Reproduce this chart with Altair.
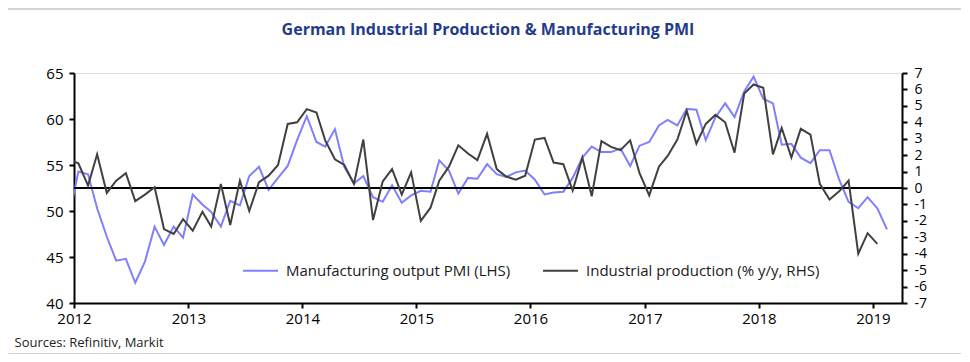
import altair as alt
import pandas as pd

# ---- data (monthly, first point Dec 2011, clipped at the axis) ----
start_month = "2011-12-01"
pmi_name = "Manufacturing output PMI (LHS)"
ip_name = "Industrial production (% y/y, RHS)"

pmi = [49.1, 54.3, 54.0, 50.3, 47.2, 44.6, 44.8, 42.2, 44.5, 48.3, 46.3, 48.3, 47.1,
       51.8, 50.7, 49.9, 48.3, 51.1, 50.6, 53.8, 54.8, 52.3, 53.6, 54.9, 57.7,
       60.3, 57.5, 57.0, 58.9, 54.8, 53.0, 53.8, 51.5, 51.0, 52.8, 50.9, 51.7,
       52.2, 52.1, 55.5, 54.4, 51.9, 53.6, 53.5, 55.1, 54.0, 53.7, 54.2, 54.4,
       53.4, 51.8, 52.0, 52.1, 53.6, 55.8, 57.0, 56.4, 56.4, 56.8, 54.9, 57.1,
       57.5, 59.3, 59.9, 59.3, 61.1, 61.0, 57.7, 60.2, 61.7, 60.2, 63.0, 64.6,
       62.2, 61.7, 57.2, 57.3, 55.8, 55.2, 56.6, 56.6, 53.4, 51.0, 50.3, 51.5,
       50.3, 48.0]

ip = [1.75, 1.5, 0.15, 2.05, -0.3, 0.45, 0.9, -0.8, -0.4, 0.05, -2.5, -2.8, -1.9,
      -2.6, -1.45, -2.35, 0.25, -2.25, 0.45, -1.4, 0.35, 0.75, 1.4, 3.9, 4.0,
      4.8, 4.6, 2.9, 1.75, 1.4, 0.25, 2.95, -1.95, 0.4, 1.15, -0.4, 0.95,
      -2.0, -1.2, 0.45, 1.3, 2.6, 2.1, 1.7, 3.3, 1.15, 0.7, 0.5, 0.75,
      2.95, 3.05, 1.55, 1.45, -0.15, 1.85, -0.5, 2.85, 2.5, 2.3, 2.9, 0.9,
      -0.45, 1.3, 1.95, 2.95, 4.7, 2.7, 3.9, 4.45, 4.0, 2.15, 5.75, 6.3,
      6.1, 2.05, 3.65, 1.85, 3.6, 3.25, 0.25, -0.7, -0.2, 0.45, -4.0, -2.75,
      -3.4]

years = list(range(2012, 2020))
left_ticks = [40, 45, 50, 55, 60, 65]
right_ticks = list(range(-7, 8))


def month_dates(n):
    d = pd.date_range(start_month, periods=n, freq="MS") + pd.Timedelta(days=14)
    return d.strftime("%Y-%m-%d")


pmi_df = pd.DataFrame({"date": month_dates(len(pmi)), "value": pmi, "series": pmi_name})
ip_df = pd.DataFrame({"date": month_dates(len(ip)), "value": ip, "series": ip_name})
zero_df = pd.DataFrame({"zero": [0]})
frame_df = pd.DataFrame({"a": [0]})

FONT = "Open Sans"

x_enc = alt.X(
    "date:T",
    scale=alt.Scale(domain=[alt.DateTime(year=2012, month=1, date=1),
                            alt.DateTime(year=2019, month=4, date=4)]),
    axis=alt.Axis(
        values=[alt.DateTime(year=y, month=1, date=1) for y in years],
        format="%Y", labelFontSize=15, labelFont=FONT, labelColor="black",
        tickSize=5, tickWidth=2, tickColor="black", domainWidth=2, domainColor="black",
        grid=False, labelPadding=3, labelFlush=False,
        title="Sources: Refinitiv, Markit", titleFont=FONT, titleFontSize=13,
        titleFontWeight="normal", titleColor="#222222", titleAnchor="start",
        titleAlign="left", titleBaseline="alphabetic", titleX=-60, titleY=43,
    ),
)

color_enc = alt.Color(
    "series:N",
    scale=alt.Scale(domain=[pmi_name, ip_name], range=["#7f7fff", "#404040"]),
    legend=alt.Legend(
        title=None, orient="none", legendX=168, legendY=179, direction="horizontal",
        symbolType="stroke", symbolSize=1225, symbolStrokeWidth=2,
        labelFont=FONT, labelFontSize=15, labelColor="#1a1a1a", labelLimit=400,
        labelOffset=7, columnPadding=28, padding=0,
    ),
)

left_axis = alt.Axis(
    orient="left", values=left_ticks, labelFontSize=15, labelFont=FONT,
    labelColor="black", tickSize=5, tickWidth=2, tickColor="black",
    domainWidth=2, domainColor="black", grid=False, title=None, labelPadding=6,
)
right_axis = alt.Axis(
    orient="right", values=right_ticks, labelFontSize=14, labelFont=FONT,
    labelColor="black", tickSize=5, tickWidth=2, tickColor="black",
    domainWidth=2, domainColor="black", grid=False, title=None, labelPadding=7,
    labelExpr="'' + datum.value",
)

pmi_line = alt.Chart(pmi_df).mark_line(strokeWidth=2, clip=True).encode(
    x=x_enc,
    y=alt.Y("value:Q", scale=alt.Scale(domain=[40, 65], nice=False, zero=False), axis=left_axis),
    color=color_enc,
)

right_scale = alt.Scale(domain=[-7, 7], nice=False)

zero_rule = alt.Chart(zero_df).mark_rule(color="black", strokeWidth=2).encode(
    y=alt.Y("zero:Q", scale=right_scale, axis=right_axis),
)

ip_line = alt.Chart(ip_df).mark_line(strokeWidth=2, clip=True).encode(
    x=x_enc,
    y=alt.Y("value:Q", scale=right_scale, axis=right_axis),
    color=color_enc,
)

right_layer = alt.layer(zero_rule, ip_line)

top_frame = alt.Chart(frame_df).mark_rule(color="#c4c4c4", strokeWidth=1.5).encode(
    x=alt.value(-66), x2=alt.value(887), y=alt.value(-64)
)
bottom_frame = alt.Chart(frame_df).mark_rule(color="#c4c4c4", strokeWidth=1.5).encode(
    x=alt.value(-66), x2=alt.value(887), y=alt.value(281)
)

chart = alt.layer(pmi_line, right_layer, top_frame, bottom_frame).resolve_scale(
    y="independent"
).properties(
    width=828,
    height=230,
    padding={"left": 66, "top": 65, "right": 60, "bottom": 51},
    autosize=alt.AutoSizeParams(type="none"),
    title=alt.TitleParams(
        text="German Industrial Production & Manufacturing PMI",
        font=FONT, fontSize=16, fontWeight="bold", color="#1f3c8c",
        anchor="middle", frame="group", baseline="alphabetic", offset=-43,
    ),
).configure_view(stroke=None).configure(background="white")

chart.save("out.html", embed_options={"renderer": "svg", "actions": False})
